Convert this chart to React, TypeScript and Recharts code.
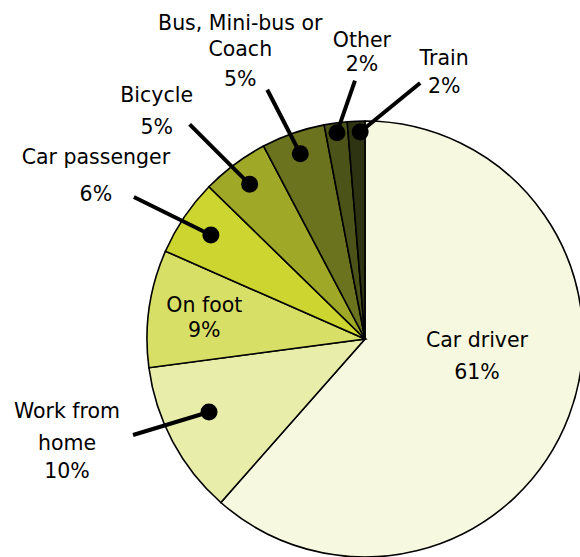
import { Cell, Pie, PieChart } from "recharts";

// travel-to-work mode shares (clockwise from 12 o'clock)
const modes = [
  "Car driver",
  "Work from home",
  "On foot",
  "Car passenger",
  "Bicycle",
  "Bus, Mini-bus or Coach",
  "Other",
  "Train",
];
const shares = [61.5, 11.4, 8.7, 5.7, 5.0, 4.7, 1.7, 1.3];
const shareLabels = ["61%", "10%", "9%", "6%", "5%", "5%", "2%", "2%"];
const nameRows = [
  ["Car driver"],
  ["Work from", "home"],
  ["On foot"],
  ["Car passenger"],
  ["Bicycle"],
  ["Bus, Mini-bus or", "Coach"],
  ["Other"],
  ["Train"],
];

const COLORS = [
  "#f6f8df",
  "#e8eeaa",
  "#d8df66",
  "#cdd630",
  "#a0a828",
  "#6b731f",
  "#4b5318",
  "#2e3411",
];

// label placement per slice: anchor radius (fraction of r), angle nudge,
// leader end offset, text centre offset from the end and row baselines
type Place = {
  r: number;
  da: number;
  dot: boolean;
  end: [number, number];
  tx: number;
  rows: number[];
};
const PLACES: Place[] = [
  { r: 0.5, da: 0, dot: false, end: [10, 0], tx: 0, rows: [-31, 1] },
  { r: 0.79, da: -3, dot: true, end: [-76, 23], tx: -66, rows: [-17, 15, 43] },
  { r: 0.74, da: 0, dot: false, end: [0, 0], tx: -1, rows: [-4, 21] },
  { r: 0.853, da: 0, dot: true, end: [-77, -38], tx: -38, rows: [-33, 4] },
  { r: 0.885, da: 0, dot: true, end: [-60, -60], tx: -33, rows: [-22, 10] },
  { r: 0.9, da: 0, dot: true, end: [-33, -64], tx: -27, rows: [-60, -34, -4] },
  { r: 0.955, da: 0, dot: true, end: [18, -52], tx: 7, rows: [-34, -10] },
  { r: 0.95, da: -1, dot: true, end: [60, -49], tx: 24, rows: [-18, 10] },
];

const data = modes.map((m, i) => ({ mode: m, share: shares[i] }));

const RAD = Math.PI / 180;

function renderLabel(props: any) {
  const { cx, cy, midAngle, outerRadius, index } = props;
  const p = PLACES[index];
  const a = (midAngle + p.da) * RAD;
  const ax = cx + outerRadius * p.r * Math.cos(-a);
  const ay = cy + outerRadius * p.r * Math.sin(-a);
  const ex = ax + p.end[0];
  const ey = ay + p.end[1];
  const rows = [...nameRows[index], shareLabels[index]];
  return (
    <g key={`lbl-${index}`}>
      {p.dot && (
        <>
          <line x1={ax} y1={ay} x2={ex} y2={ey} stroke="#000" strokeWidth={4} />
          <circle cx={ax} cy={ay} r={8.5} fill="#000" />
        </>
      )}
      <text
        textAnchor="middle"
        fontFamily="DejaVu Sans"
        fontSize={20.5}
        fill="#000"
      >
        {rows.map((t, k) => (
          <tspan key={k} x={ex + p.tx} y={ey + p.rows[k]}>
            {t}
          </tspan>
        ))}
      </text>
    </g>
  );
}

export default function App() {
  return (
    <div style={{ position: "absolute", left: 0, top: 0, background: "#fff" }}>
      <PieChart width={580} height={557}>
        <Pie
          data={data}
          dataKey="share"
          nameKey="mode"
          cx={360}
          cy={334}
          outerRadius={218}
          startAngle={90}
          endAngle={-270}
          stroke="#000"
          strokeWidth={1.6}
          label={renderLabel}
          labelLine={false}
          isAnimationActive={false}
        >
          {data.map((d, i) => (
            <Cell key={d.mode} fill={COLORS[i]} />
          ))}
        </Pie>
      </PieChart>
    </div>
  );
}
